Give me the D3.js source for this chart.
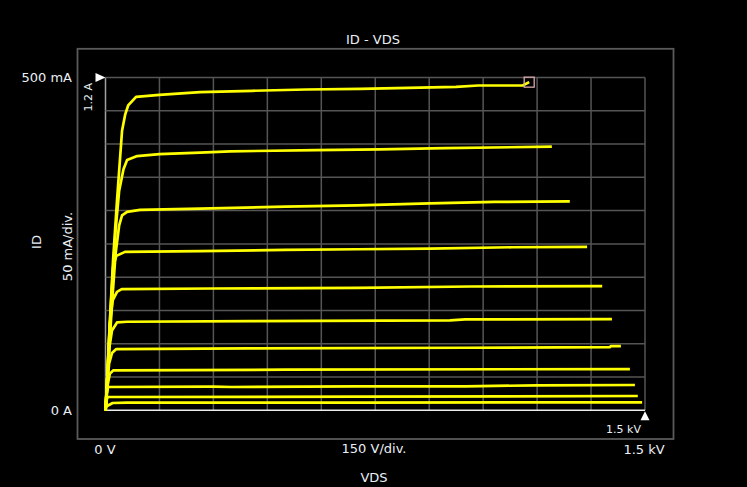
<!DOCTYPE html>
<html>
<head>
<meta charset="utf-8">
<script src="https://cdn.jsdelivr.net/npm/d3@7"></script>
<style>
  html, body { margin: 0; padding: 0; background: #000; }
  svg text { font-family: "DejaVu Sans", sans-serif; fill: #eaf0f5; }
</style>
</head>
<body>
<div id="chart"></div>
<script>
// grid positions (V and mA)
var gridV = [0, 150, 300, 450, 600, 750, 900, 1050, 1200, 1350, 1500];
var gridI = [0, 50, 100, 150, 200, 250, 300, 350, 400, 450, 500];

// traces: [VDS in V, ID in mA]
var trace1 = [[0,0],[5,50],[10,110],[21,225],[32,315],[46,420],[55,445],[63,458],[85,471],[150,474],[263,478],[408,480],[558,482],[708,483],[975,486],[1036,488],[1160,488],[1178,493]];
var trace2 = [[0,0],[8,80],[18,180],[28,270],[38,330],[50,362],[60,376],[88,382],[150,385],[263,387],[346,389],[585,391],[763,392],[944,394],[1241,396]];
var trace3 = [[0,0],[8,70],[18,160],[28,235],[38,278],[46,293],[60,298],[96,301],[263,303],[500,306],[700,308],[902,311],[1083,313],[1291,314]];
var trace4 = [[0,0],[6,60],[14,150],[21,215],[30,232],[54,238],[263,239],[500,241],[700,242],[902,243],[1130,245],[1339,245.5]];
var trace5 = [[0,0],[5,50],[12,130],[20,165],[32,178],[45,182],[300,183],[700,184],[1015,186],[1381,186.5]];
var trace6 = [[0,0],[5,45],[11,95],[18,120],[32,132],[60,133],[400,134],[958,135],[1000,136.5],[1408,137]];
var trace7 = [[0,0],[5,40],[10,70],[18,86],[30,92],[400,93],[1000,94],[1403,95],[1405,96.5],[1433,96.5]];
var trace8 = [[0,0],[5,35],[12,55],[22,60],[500,61],[1458,62]];
var trace9 = [[0,0],[4,25],[7,35],[300,35.5],[350,35],[700,36],[1000,36],[1200,37.5],[1472,38]];
var trace10 = [[0,0],[4,18],[8,20],[700,20.5],[1480,21.5]];
var trace11 = [[0,0],[3,6],[20,11],[60,11.5],[700,11.5],[1492,12]];
var traces = [trace1, trace2, trace3, trace4, trace5, trace6, trace7, trace8, trace9, trace10, trace11];

var W = 747, H = 487;
var plot = {left: 105.5, right: 645, top: 77.5, bottom: 410.3};

var svg = d3.select("#chart").append("svg")
  .attr("width", W).attr("height", H)
  .style("display", "block")
  .style("background", "#000");

var x = d3.scaleLinear().domain([0, 1500]).range([plot.left, plot.right]);
var y = d3.scaleLinear().domain([0, 500]).range([plot.bottom, plot.top]);

// outer frame
svg.append("rect")
  .attr("x", 77.5).attr("y", 48.8)
  .attr("width", 596).attr("height", 390.2)
  .attr("fill", "none").attr("stroke", "#5a5a5a").attr("stroke-width", 1.8);

// grid
svg.append("g").selectAll("line").data(gridV).enter().append("line")
  .attr("x1", function(d) { return x(d); }).attr("x2", function(d) { return x(d); })
  .attr("y1", plot.top).attr("y2", plot.bottom)
  .attr("stroke", function(d) { return d === 0 ? "#a0a0a0" : "#555"; })
  .attr("stroke-width", 1.5);
svg.append("g").selectAll("line").data(gridI).enter().append("line")
  .attr("x1", plot.left).attr("x2", plot.right)
  .attr("y1", function(d) { return y(d); }).attr("y2", function(d) { return y(d); })
  .attr("stroke", function(d) { return d === 0 ? "#ececec" : "#555"; })
  .attr("stroke-width", 1.5);

// traces
var line = d3.line()
  .x(function(d) { return x(d[0]); })
  .y(function(d) { return y(d[1]); });
svg.append("g").selectAll("path").data(traces).enter().append("path")
  .attr("d", line)
  .attr("fill", "none")
  .attr("stroke", "#ffff00")
  .attr("stroke-width", 2.7)
  .attr("stroke-linejoin", "round");

// cursor box at end of top trace
var last = trace1[trace1.length - 1];
svg.append("rect")
  .attr("x", x(last[0]) - 5).attr("y", y(last[1]) - 5)
  .attr("width", 10).attr("height", 10)
  .attr("fill", "none").attr("stroke", "#d9a8aa").attr("stroke-width", 1.3);

// range markers
svg.append("path")
  .attr("d", d3.line()([[x(0) - 10, y(500) - 4.5], [x(0), y(500)], [x(0) - 10, y(500) + 4.5]]) + "Z")
  .attr("fill", "#fff");
svg.append("path")
  .attr("d", d3.line()([[x(1500) - 4.5, y(0) + 10], [x(1500), y(0) + 1], [x(1500) + 4.5, y(0) + 10]]) + "Z")
  .attr("fill", "#fff");

// texts
function txt(s, tx, ty, size, anchor, rot) {
  var t = svg.append("text").text(s)
    .attr("font-size", size + "px")
    .attr("text-anchor", anchor);
  if (rot) t.attr("transform", "translate(" + tx + "," + ty + ") rotate(-90)");
  else t.attr("x", tx).attr("y", ty);
  return t;
}
txt("ID - VDS", 373, 44, 13, "middle");
txt("500 mA", 72, 81.5, 13, "end");
txt("0 A", 72, 415, 13, "end");
txt("0 V", 105, 454, 13, "middle");
txt("150 V/div.", 374, 453, 13, "middle");
txt("1.5 kV", 644, 454, 13, "middle");
txt("VDS", 374, 482, 13, "middle");
txt("1.5 kV", 641, 433, 11, "end");
txt("1.2 A", 91.5, 83, 11, "end", true);
txt("ID", 40.5, 242, 13, "middle", true);
txt("50 mA/div.", 72, 246.5, 13, "middle", true);
</script>
</body>
</html>
